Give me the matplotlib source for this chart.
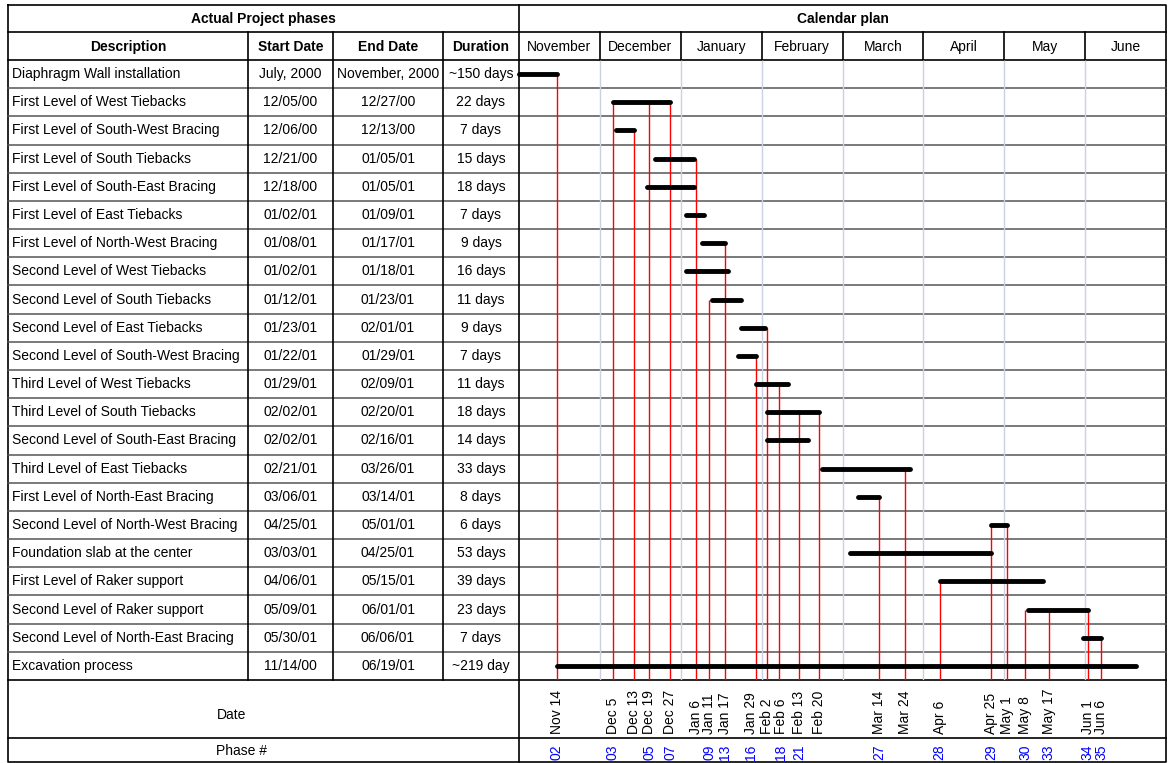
import pandas as pd
import matplotlib.pyplot as plt
from matplotlib import transforms

plt.rcParams['font.family'] = ['Liberation Sans', 'DejaVu Sans']
plt.rcParams['font.size'] = 10

# project phases table
descriptions = [
    "Diaphragm Wall installation",
    "First Level of West Tiebacks",
    "First Level of South-West Bracing",
    "First Level of South Tiebacks",
    "First Level of South-East Bracing",
    "First Level of East Tiebacks",
    "First Level of North-West Bracing",
    "Second Level of West Tiebacks",
    "Second Level of South Tiebacks",
    "Second Level of East Tiebacks",
    "Second Level of South-West Bracing",
    "Third Level of West Tiebacks",
    "Third Level of South Tiebacks",
    "Second Level of South-East Bracing",
    "Third Level of East Tiebacks",
    "First Level of North-East Bracing",
    "Second Level of North-West Bracing",
    "Foundation slab at the center",
    "First Level of Raker support",
    "Second Level of Raker support",
    "Second Level of North-East Bracing",
    "Excavation process",
]
start_dates = ["July, 2000", "12/05/00", "12/06/00", "12/21/00", "12/18/00", "01/02/01",
               "01/08/01", "01/02/01", "01/12/01", "01/23/01", "01/22/01", "01/29/01",
               "02/02/01", "02/02/01", "02/21/01", "03/06/01", "04/25/01", "03/03/01",
               "04/06/01", "05/09/01", "05/30/01", "11/14/00"]
end_dates = ["November, 2000", "12/27/00", "12/13/00", "01/05/01", "01/05/01", "01/09/01",
             "01/17/01", "01/18/01", "01/23/01", "02/01/01", "01/29/01", "02/09/01",
             "02/20/01", "02/16/01", "03/26/01", "03/14/01", "05/01/01", "04/25/01",
             "05/15/01", "06/01/01", "06/06/01", "06/19/01"]
durations = ["~150 days", "22 days", "7 days", "15 days", "18 days", "7 days", "9 days",
             "16 days", "11 days", "9 days", "7 days", "11 days", "18 days", "14 days",
             "33 days", "8 days", "6 days", "53 days", "39 days", "23 days", "7 days",
             "~219 day"]

months = ["November", "December", "January", "February", "March", "April", "May", "June"]

# the wall installation only shows its November part on the calendar
wall_bar = ("11/01/00", "11/14/00")

# milestone lines: date label, row the line drops from, phase number
marker_labels = ["Nov 14", "Dec 5", "Dec 13", "Dec 19", "Dec 27", "Jan 6", "Jan 11",
                 "Jan 17", "Jan 29", "Feb 2", "Feb 6", "Feb 13", "Feb 20", "Mar 14",
                 "Mar 24", "Apr 6", "Apr 25", "May 1", "May 8", "May 17", "Jun 1", "Jun 6"]
marker_rows = [0, 1, 2, 1, 1, 3, 8, 6, 10, 9, 11, 12, 12, 15, 14, 18, 16, 16, 19, 19, 19, 20]
phase_numbers = ["02", "03", "", "05", "07", "", "09", "13", "16", "", "18", "21", "",
                 "27", "", "28", "29", "", "30", "33", "34", "35"]

# small pixel nudges so the crowded late-January labels stay readable
label_nudge = {"Jan 29": -5, "Feb 6": 2}


def month_pos(ts):
    # every month gets the same width on the calendar
    idx = (ts.year - 2000) * 12 + ts.month - 11
    return idx + ts.day / ts.days_in_month


def row_date(s):
    return month_pos(pd.to_datetime(s, format="%m/%d/%y"))


def label_date(s):
    mon, day = s.split()
    year = 2000 if mon in ("Nov", "Dec") else 2001
    return month_pos(pd.to_datetime(f"{mon} {day} {year}", format="%b %d %Y"))


W, H = 1168, 763
fig = plt.figure(figsize=(W / 100, H / 100), dpi=100)

# page axes in pixel units for the table
tab = fig.add_axes([0, 0, 1, 1])
tab.set_xlim(0, W)
tab.set_ylim(H, 0)
tab.axis('off')

left, right, top = 8, 1166, 5
c_desc, c_start, c_end, c_dur = 248, 333, 443, 519
hdr1, hdr2, body_bot, date_bot, bottom = 32, 60, 680, 738, 762
n = len(descriptions)
row_h = (body_bot - hdr2) / n
month_w = (right - c_dur) / len(months)

# calendar axes over the body rows
cal = fig.add_axes([c_dur / W, (H - body_bot) / H, (right - c_dur) / W, (body_bot - hdr2) / H])
cal.set_xlim(0, len(months))
cal.set_ylim(n, 0)
cal.axis('off')
cal.patch.set_alpha(0)

mix = transforms.blended_transform_factory(cal.transData, tab.transData)

lk = dict(color='black', lw=1.2)
# outer frame and main rules
tab.plot([left, right, right, left, left], [top, top, bottom, bottom, top], **lk)
for y in [hdr1, hdr2, body_bot, date_bot]:
    tab.plot([left, right], [y, y], **lk)
for k in range(1, n):
    y = hdr2 + k * row_h
    tab.plot([left, right], [y, y], color='#555555', lw=1.1)
tab.plot([c_dur, c_dur], [top, bottom], **lk)
for x in [c_desc, c_start, c_end]:
    tab.plot([x, x], [hdr1, body_bot], **lk)
for k in range(1, len(months)):
    x = c_dur + k * month_w
    tab.plot([x, x], [hdr1, hdr2], **lk)

# light month grid in the calendar body
cal.vlines(range(1, len(months)), 0, n, colors='#c9d1e3', lw=1.0, zorder=1)

# headers
tab.text((left + c_dur) / 2, (top + hdr1) / 2, "Actual Project phases", ha='center', va='center', weight='bold')
tab.text((c_dur + right) / 2, (top + hdr1) / 2, "Calendar plan", ha='center', va='center', weight='bold')
ymid = (hdr1 + hdr2) / 2 + 1
tab.text((left + c_desc) / 2, ymid, "Description", ha='center', va='center', weight='bold')
tab.text((c_desc + c_start) / 2, ymid, "Start Date", ha='center', va='center', weight='bold')
tab.text((c_start + c_end) / 2, ymid, "End Date", ha='center', va='center', weight='bold')
tab.text((c_end + c_dur) / 2, ymid, "Duration", ha='center', va='center', weight='bold')
for k, m in enumerate(months):
    tab.text(k + 0.5, ymid, m, ha='center', va='center', transform=mix)

# table rows
for i in range(n):
    y = hdr2 + (i + 0.5) * row_h
    tab.text(left + 4, y, descriptions[i], ha='left', va='center')
    tab.text((c_desc + c_start) / 2, y, start_dates[i], ha='center', va='center')
    tab.text((c_start + c_end) / 2, y, end_dates[i], ha='center', va='center')
    tab.text((c_end + c_dur) / 2, y, durations[i], ha='center', va='center')

# milestone lines
for lab, r in zip(marker_labels, marker_rows):
    cal.vlines(label_date(lab), r + 0.5, n, colors='red', lw=1.0, zorder=2)

# bars
for i in range(n):
    if i == 0:
        x0, x1 = 0, row_date(wall_bar[1])
    else:
        x0, x1 = row_date(start_dates[i]), row_date(end_dates[i])
    cal.plot([x0, x1], [i + 0.5, i + 0.5], color='black', lw=3.5,
             solid_capstyle='round', clip_on=False, zorder=3)

# bottom rows: dates and phase numbers
tab.text(232, 715, "Date", ha='center', va='center')
tab.text(242, 751, "Phase #", ha='center', va='center')
for lab, ph in zip(marker_labels, phase_numbers):
    x = label_date(lab)
    tr = transforms.offset_copy(mix, fig=fig, x=label_nudge.get(lab, 0), units='dots')
    tab.text(x, date_bot - 4, lab, rotation=90, ha='center', va='bottom', transform=tr)
    if ph:
        tab.text(x, bottom - 2, ph, rotation=90, ha='center', va='bottom',
                 color='blue', transform=tr)

fig.savefig('out.png', dpi=100)
